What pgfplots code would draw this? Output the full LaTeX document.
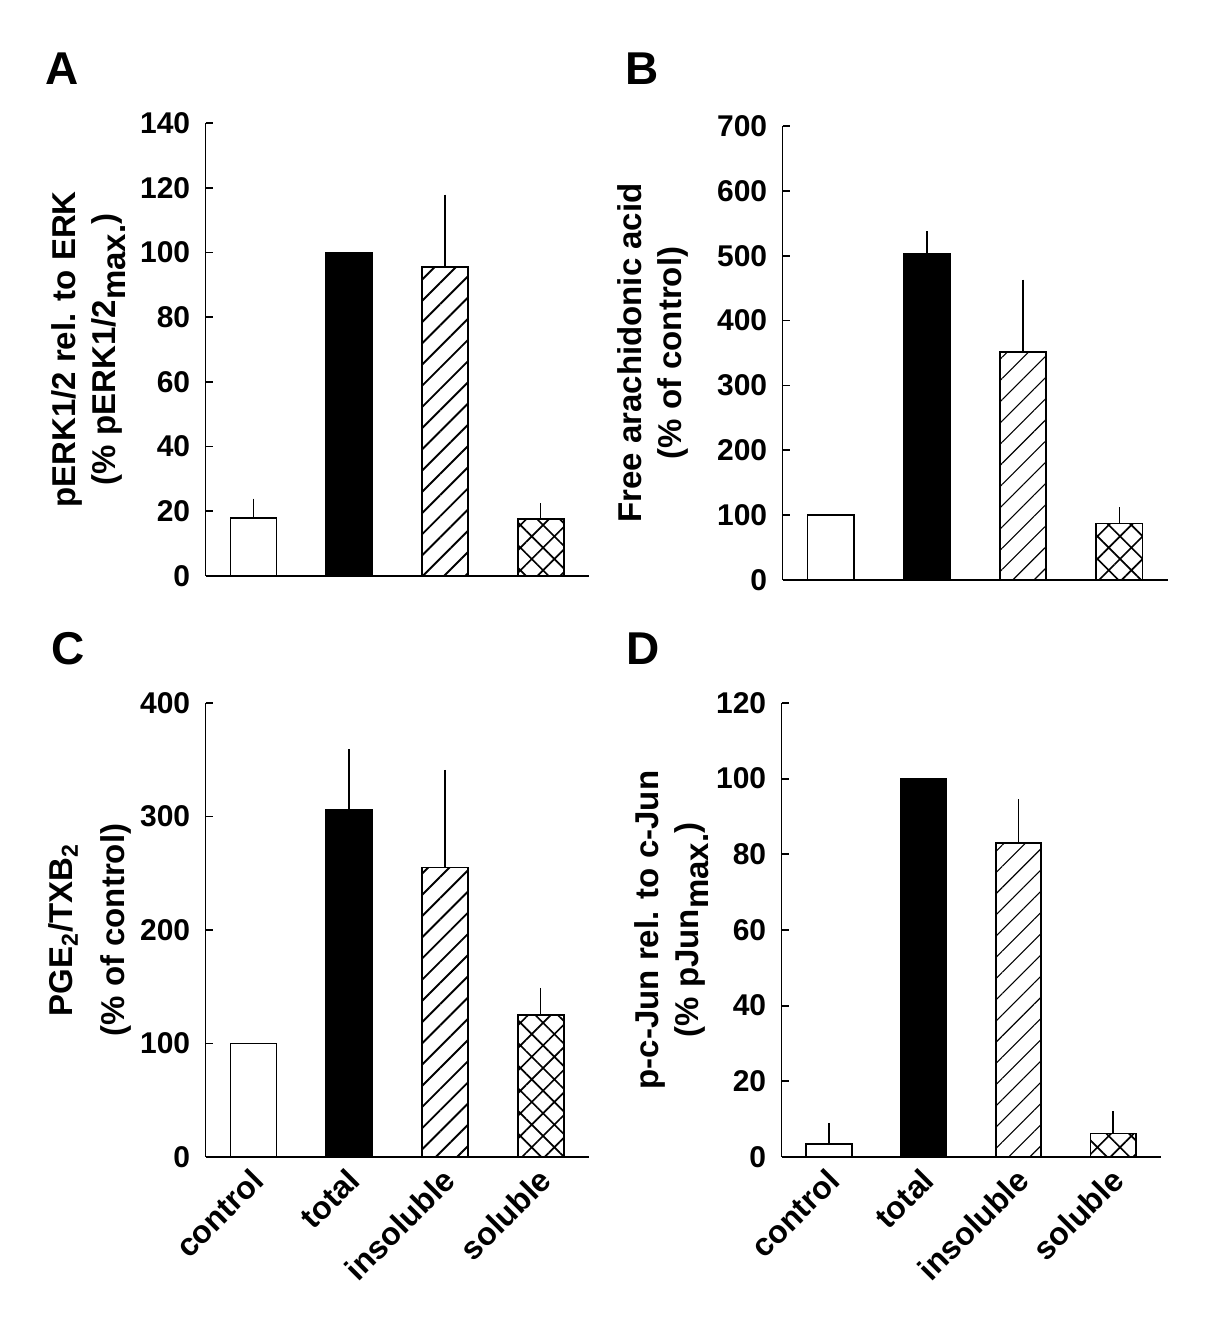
\documentclass[border=0pt]{standalone}
\usepackage{fontspec}
\setmainfont{Liberation Sans}
\usepackage{pgfplots}
\pgfplotsset{compat=1.18}
\usetikzlibrary{patterns.meta}
\begin{document}
\pgfplotsset{
  panel/.style={
    scale only axis, xmin=-0.5, xmax=3.5, ymin=0,
    axis x line*=bottom, axis y line*=left,
    axis line style={line width=0.9pt, black},
    tick align=inside, major tick length=3.5pt,
    ytick style={line width=0.9pt, black},
    xtick style={draw=none},
    xtick=\empty,
    /pgf/number format/assume math mode=true,
    yticklabel style={font=\fontsize{15}{17}\selectfont\bfseries, anchor=east, inner sep=0pt, xshift=-7.5pt},
    xticklabel style={font=\fontsize{16}{18}\selectfont\bfseries, xshift=-2pt, yshift=-4.5pt, rotate=45, anchor=north east, inner sep=0pt},
    ylabel style={font=\fontsize{16.5}{20}\selectfont\bfseries, align=center, anchor=south},
  },
  cats/.style={xtick={0,1,2,3}, xticklabels={control,total,insoluble,soluble}},
  bar/.style={ybar, bar width=0.48, bar shift=0pt, draw=black, line width=0.9pt,
    error bars/y dir=plus, error bars/y explicit,
    error bars/error bar style={line width=0.7pt, black},
    error bars/error mark=-, error bars/error mark options={mark size=2.9pt, line width=0.7pt, black}},
  thickhatch/.style={pattern={Lines[angle=45,distance=7.5pt,line width=0.95pt]}},
  thinhatch/.style={pattern={Lines[angle=45,distance=7.5pt,line width=0.55pt]}},
  cross/.style={pattern={Hatch[angle=45,distance=8pt,line width=0.85pt]}},
}
\begin{tikzpicture}
\path[use as bounding box] (0,0) rectangle (600pt,658.5pt);
\node[anchor=base west, font=\fontsize{23}{26}\selectfont\bfseries, inner sep=0pt] at (20pt,616pt) {A};
\node[anchor=base west, font=\fontsize{23}{26}\selectfont\bfseries, inner sep=0pt] at (310pt,616pt) {B};
\node[anchor=base west, font=\fontsize{23}{26}\selectfont\bfseries, inner sep=0pt] at (23pt,326pt) {C};
\node[anchor=base west, font=\fontsize{23}{26}\selectfont\bfseries, inner sep=0pt] at (310.5pt,326pt) {D};

% Panel A
\begin{axis}[panel, at={(100pt,370.5pt)}, anchor=south west, width=191.5pt, height=226.5pt,
  ymax=140, ytick={0,20,40,60,80,100,120,140},
  ylabel={pERK1/2 rel. to ERK\\(\% pERK1/2\raisebox{-0.3em}{max.})},
  ylabel style={at={([xshift=-36.5pt]axis description cs:0,0.5)}}]
\addplot[bar, fill=white] coordinates {(0,18) +- (0,4.1)};
\addplot[bar, fill=black] coordinates {(1,100)};
\addplot[bar, thickhatch] coordinates {(2,95.4) +- (0,20.7)};
\addplot[bar, cross] coordinates {(3,17.7) +- (0,3.0)};
\end{axis}

% Panel B
\begin{axis}[panel, at={(388.5pt,368.5pt)}, anchor=south west, width=192.5pt, height=227pt,
  ymax=700, ytick={0,100,200,300,400,500,600,700},
  ylabel={Free arachidonic acid\\(\% of control)},
  ylabel style={at={([xshift=-43.5pt]axis description cs:0,0.5)}}]
\addplot[bar, fill=white] coordinates {(0,100)};
\addplot[bar, fill=black] coordinates {(1,503) +- (0,26)};
\addplot[bar, thinhatch] coordinates {(2,352) +- (0,102)};
\addplot[bar, cross] coordinates {(3,87) +- (0,16)};
\end{axis}

% Panel C
\begin{axis}[panel, cats, at={(100pt,80pt)}, anchor=south west, width=191.5pt, height=227pt,
  ymax=400, ytick={0,100,200,300,400},
  ylabel={PGE\textsubscript{2}/TXB\textsubscript{2}\\[6pt](\% of control)},
  ylabel style={at={([xshift=-33.5pt]axis description cs:0,0.5)}}]
\addplot[bar, fill=white] coordinates {(0,100)};
\addplot[bar, fill=black] coordinates {(1,306) +- (0,48)};
\addplot[bar, thickhatch] coordinates {(2,255) +- (0,81)};
\addplot[bar, cross] coordinates {(3,125) +- (0,19)};
\end{axis}

% Panel D
\begin{axis}[panel, cats, at={(388pt,80pt)}, anchor=south west, width=189.5pt, height=227pt,
  ymax=120, ytick={0,20,40,60,80,100,120},
  ylabel={p-c-Jun rel. to c-Jun\\(\% pJun\raisebox{-0.3em}{max.})},
  ylabel style={at={([xshift=-33pt]axis description cs:0,0.5)}}]
\addplot[bar, fill=white] coordinates {(0,3.5) +- (0,4)};
\addplot[bar, fill=black] coordinates {(1,100)};
\addplot[bar, thinhatch] coordinates {(2,83) +- (0,10)};
\addplot[bar, cross] coordinates {(3,6.2) +- (0,4.4)};
\end{axis}
\end{tikzpicture}
\end{document}
